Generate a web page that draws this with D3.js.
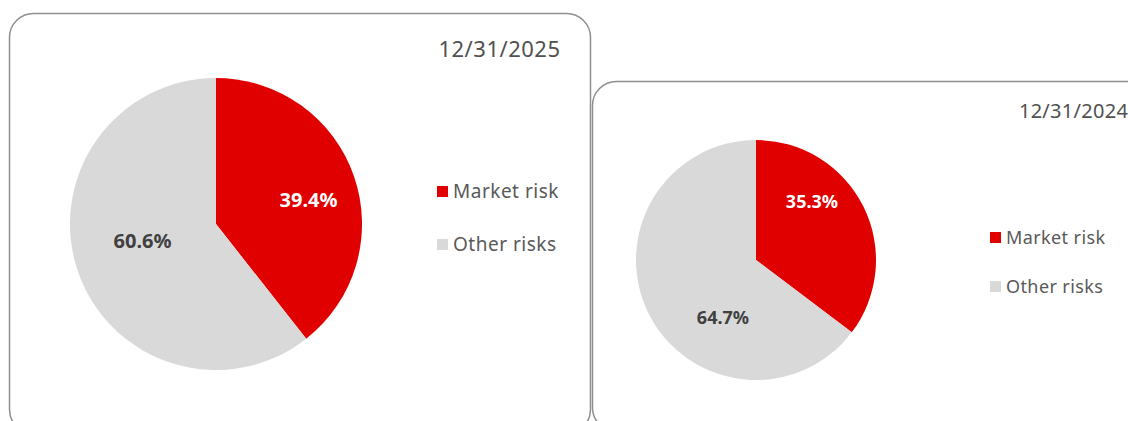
<!DOCTYPE html>
<html>
<head>
<meta charset="utf-8">
<script src="https://cdn.jsdelivr.net/npm/d3@7"></script>
<style>
  body { margin: 0; background: #fff; }
  svg { display: block; font-family: "Noto Sans", "Open Sans", sans-serif; }
</style>
</head>
<body>
<div id="chart"></div>
<script>
// data
const categories = ["Market risk", "Other risks"];
const dates = ["12/31/2025", "12/31/2024"];
const values2025 = [39.4, 60.6];
const values2024 = [35.3, 64.7];

const colors = ["#e00000", "#d9d9d9"];
const labelColors = ["#ffffff", "#404040"];

// layout for each panel (box, pie, legend, label placement as [angle, radius])
const panels = [
  { values: values2025, date: dates[0],
    box: { x: 9.5, y: 13.5, w: 581, h: 420 }, r: 146, cx: 216, cy: 224,
    dateX: 560, dateY: 57, dateSize: 22, dateLs: 0.5,
    legX: 437, legY: 186, legGap: 53, legSize: 19, legLs: 0.5, sq: 11,
    labelSize: 20, labelPos: [[75.2, 95.7], [257.3, 75.3]] },
  { values: values2024, date: dates[1],
    box: { x: 592.5, y: 81.5, w: 560, h: 350 }, r: 120, cx: 756, cy: 260,
    dateX: 1128, dateY: 118, dateSize: 20, dateLs: 0.3,
    legX: 990, legY: 232, legGap: 49, legSize: 18, legLs: 0.4, sq: 11,
    labelSize: 18, labelPos: [[43.5, 81.3], [209.9, 66.3]] }
];

const width = 1128, height = 421;
const svg = d3.select("#chart").append("svg")
  .attr("width", width).attr("height", height);

const pie = d3.pie().sort(null).value(d => d);

panels.forEach(function (p) {
  // frame
  svg.append("rect")
    .attr("x", p.box.x).attr("y", p.box.y)
    .attr("width", p.box.w).attr("height", p.box.h)
    .attr("rx", 24).attr("ry", 24)
    .attr("fill", "#fff")
    .attr("stroke", "#8f8f8f").attr("stroke-width", 1.5);

  svg.append("text")
    .attr("x", p.dateX + p.dateLs).attr("y", p.dateY)
    .attr("text-anchor", "end")
    .style("font-size", p.dateSize + "px")
    .style("letter-spacing", p.dateLs + "px")
    .style("fill", "#505050")
    .text(p.date);

  let arc = d3.arc().innerRadius(0).outerRadius(p.r);
  let g = svg.append("g").attr("transform", "translate(" + p.cx + "," + p.cy + ")");

  g.selectAll("path")
    .data(pie(p.values))
    .enter()
    .append("path")
    .attr("d", arc)
    .attr("fill", (d, i) => colors[i]);

  // data labels (Excel-like best fit placement)
  g.selectAll("text.lbl")
    .data(pie(p.values))
    .enter()
    .append("text")
    .attr("class", "lbl")
    .attr("x", (d, i) => p.labelPos[i][1] * Math.sin(p.labelPos[i][0] * Math.PI / 180))
    .attr("y", (d, i) => -p.labelPos[i][1] * Math.cos(p.labelPos[i][0] * Math.PI / 180))
    .attr("dy", "0.36em")
    .attr("text-anchor", "middle")
    .style("font-size", p.labelSize + "px")
    .style("font-weight", "bold")
    .style("fill", (d, i) => labelColors[i])
    .text(d => d.data.toFixed(1) + "%");

  // legend
  let leg = svg.append("g").selectAll("g")
    .data(categories)
    .enter()
    .append("g")
    .attr("transform", (d, i) => "translate(" + p.legX + "," + (p.legY + i * p.legGap) + ")");

  leg.append("rect")
    .attr("width", p.sq).attr("height", p.sq)
    .attr("fill", (d, i) => colors[i]);

  leg.append("text")
    .attr("x", p.sq + 5).attr("y", p.sq + 0.5)
    .style("font-size", p.legSize + "px")
    .style("letter-spacing", p.legLs + "px")
    .style("fill", "#595959")
    .text(d => d);
});
</script>
</body>
</html>
